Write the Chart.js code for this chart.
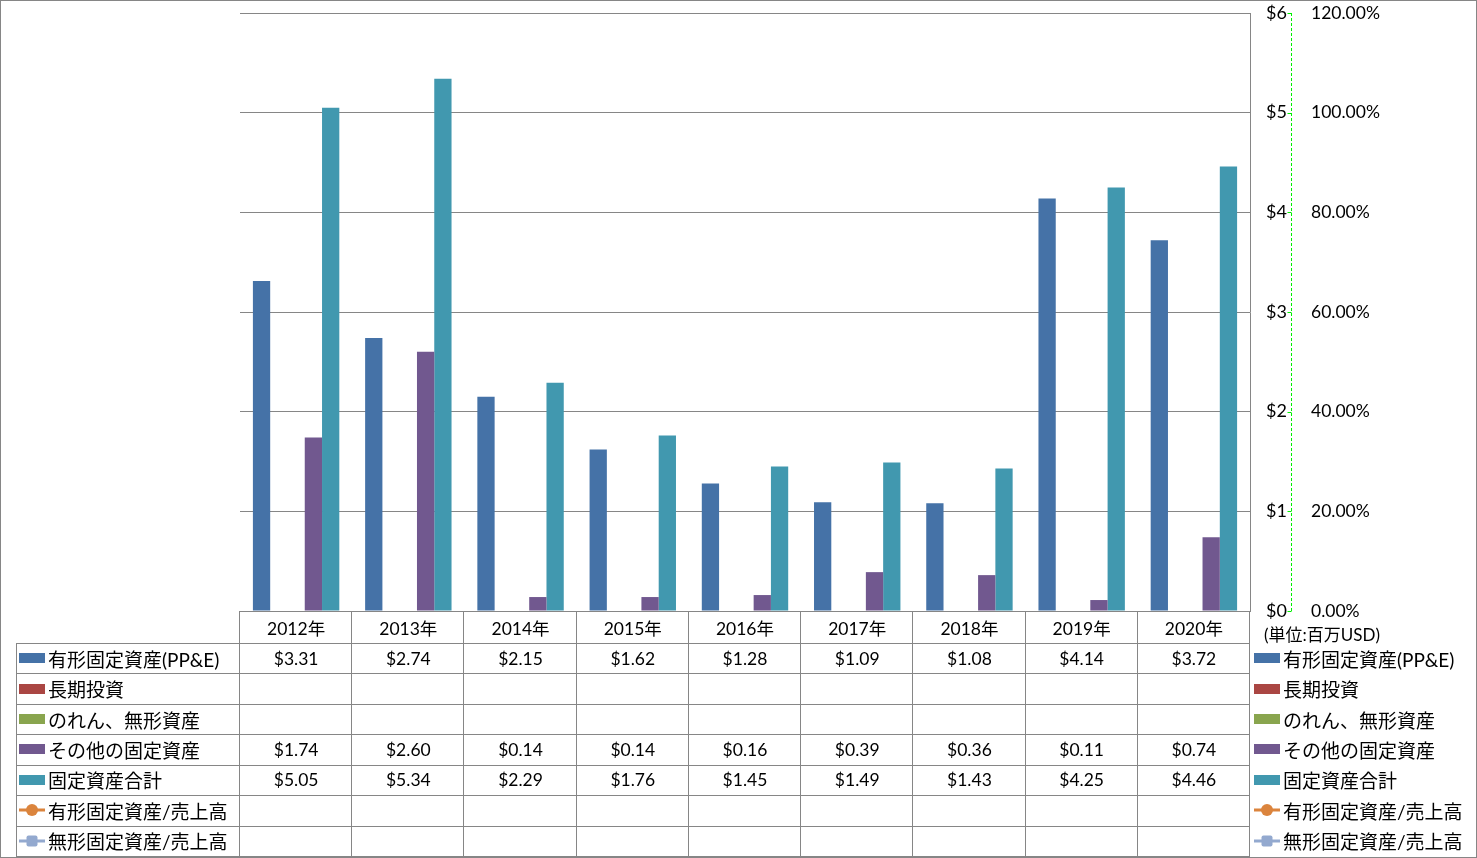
<!DOCTYPE html>
<html lang="ja">
<head>
<meta charset="utf-8">
<script src="https://cdn.jsdelivr.net/npm/chart.js@4.4.1/dist/chart.umd.min.js"></script>
<style>
  body { margin: 0; background: #fff; }
  #wrap { position: relative; width: 1477px; height: 858px; font-family: Lato, "Noto Sans CJK JP", sans-serif; color: #000; overflow: hidden; }
  #c { position: absolute; left: 0; top: 0; }
  #frame { position: absolute; left: 0; top: 0; width: 1475px; height: 856px; border: 1px solid #868686; pointer-events: none; }
  .ln { position: absolute; background: #868686; }
  .cell { position: absolute; display: flex; align-items: center; justify-content: center; font-size: 17.5px; white-space: nowrap; }
  .lab { position: absolute; display: flex; align-items: center; font-size: 19px; white-space: nowrap; }
  .lab svg { flex: none; margin-right: 3px; }
  #unit { position: absolute; left: 1264px; top: 621px; font-size: 17px; white-space: nowrap; }
</style>
</head>
<body>
<div id="wrap">
  <canvas id="c" width="1477" height="858"></canvas>
  <div id="table"></div>
  <div id="unit">(単位:百万USD)</div>
  <div id="frame"></div>
</div>
<script>
// chart data (millions USD)
const years = ['2012年', '2013年', '2014年', '2015年', '2016年', '2017年', '2018年', '2019年', '2020年'];
const ppe = [3.31, 2.74, 2.15, 1.62, 1.28, 1.09, 1.08, 4.14, 3.72];
const longTermInv = [null, null, null, null, null, null, null, null, null];
const goodwill = [null, null, null, null, null, null, null, null, null];
const otherFixed = [1.74, 2.60, 0.14, 0.14, 0.16, 0.39, 0.36, 0.11, 0.74];
const totalFixed = [5.05, 5.34, 2.29, 1.76, 1.45, 1.49, 1.43, 4.25, 4.46];
const ppeToSales = [null, null, null, null, null, null, null, null, null];
const intangibleToSales = [null, null, null, null, null, null, null, null, null];

const dollarTicks = [0, 1, 2, 3, 4, 5, 6];

const FONT = 'Lato, "Noto Sans CJK JP", sans-serif';

// green dashed axis line that sits between the $ and % labels
const greenAxis = {
  id: 'greenAxis',
  afterDraw(chart) {
    const ctx = chart.ctx;
    const y = chart.scales.y;
    const x = Math.round(y.right) - 0.5;
    ctx.save();
    ctx.strokeStyle = '#00f000';
    ctx.lineWidth = 1;
    ctx.setLineDash([3, 2]);
    ctx.beginPath();
    ctx.moveTo(x, chart.chartArea.top);
    ctx.lineTo(x, chart.chartArea.bottom);
    ctx.stroke();
    ctx.setLineDash([]);
    dollarTicks.forEach(v => {
      const py = Math.round(y.getPixelForValue(v)) + 0.5;
      ctx.beginPath();
      ctx.moveTo(x - 4, py);
      ctx.lineTo(x, py);
      ctx.stroke();
    });
    ctx.restore();
  }
};

// fixed axis widths, and no label overhang padding so the plot starts at the layout padding
const fitY = s => { s.width = 42; s.paddingTop = 0; s.paddingBottom = 0; };
const fitY1 = s => { s.width = 185; s.paddingTop = 0; s.paddingBottom = 0; };

const chart = new Chart(document.getElementById('c'), {
  type: 'bar',
  data: {
    labels: years,
    datasets: [
      { label: '有形固定資産(PP&E)', data: ppe, backgroundColor: '#4572A7' },
      { label: '長期投資', data: longTermInv, backgroundColor: '#AA4643' },
      { label: 'のれん、無形資産', data: goodwill, backgroundColor: '#89A54E' },
      { label: 'その他の固定資産', data: otherFixed, backgroundColor: '#71588F' },
      { label: '固定資産合計', data: totalFixed, backgroundColor: '#4198AF' },
      { type: 'line', label: '有形固定資産/売上高', data: ppeToSales, yAxisID: 'y1',
        borderColor: '#DB843D', backgroundColor: '#DB843D', pointStyle: 'circle' },
      { type: 'line', label: '無形固定資産/売上高', data: intangibleToSales, yAxisID: 'y1',
        borderColor: '#93A9CF', backgroundColor: '#93A9CF', pointStyle: 'rectRounded' }
    ]
  },
  options: {
    responsive: false,
    animation: false,
    layout: { autoPadding: false, padding: { left: 240, top: 13, right: 0, bottom: 247 } },
    plugins: { legend: { display: false }, tooltip: { enabled: false } },
    datasets: { bar: { categoryPercentage: 0.77, barPercentage: 1 } },
    scales: {
      x: { display: false },
      y: {
        position: 'right', min: 0, max: 6,
        ticks: { stepSize: 1, padding: 16, color: '#000', font: { family: FONT, size: 18 },
                 callback: v => '$' + v },
        grid: { color: '#868686', drawTicks: false },
        border: { display: true, color: '#868686' },
        afterFit: fitY
      },
      y1: {
        position: 'right', min: 0, max: 120,
        ticks: { stepSize: 20, padding: 19, color: '#000', font: { family: FONT, size: 17.5 },
                 callback: v => v.toFixed(2) + '%' },
        grid: { display: false, drawTicks: false },
        border: { display: false },
        afterFit: fitY1
      }
    }
  },
  plugins: [greenAxis]
});

// data table under the plot, laid out from the chart's own x scale
function keySvg(ds) {
  const c = ds.backgroundColor;
  if (ds.type === 'line') {
    const marker = ds.pointStyle === 'circle'
      ? `<circle cx="13" cy="8" r="6" fill="${c}"/>`
      : `<rect x="7.5" y="2.5" width="11" height="11" rx="2" fill="${c}"/>`;
    return `<svg width="26" height="16"><rect x="0" y="6.5" width="26" height="3" fill="${c}"/>${marker}</svg>`;
  }
  return `<svg width="26" height="16"><rect x="0" y="3" width="26" height="10" fill="${c}"/></svg>`;
}

function buildTable() {
  const box = document.getElementById('table');
  const ca = chart.chartArea;
  const xs = chart.scales.x;
  const colW = xs.getPixelForValue(1) - xs.getPixelForValue(0);
  const headTop = ca.bottom;
  const headBottom = 643;
  const tableBottom = 856;
  const sets = chart.data.datasets;
  const rowH = (tableBottom - headBottom) / sets.length;
  let html = '';

  const line = (l, t, w, h) => `<div class="ln" style="left:${l}px;top:${t}px;width:${w}px;height:${h}px"></div>`;

  // vertical column lines
  for (let k = 0; k <= years.length; k++) {
    const x = Math.round(ca.left + k * colW) - 1;
    html += line(x, headTop, 1, tableBottom - headTop);
  }
  html += line(16, headBottom, 1, tableBottom - headBottom);
  // horizontal row lines
  for (let r = 0; r <= sets.length; r++) {
    const y = Math.round(headBottom + r * rowH);
    html += line(16, y, Math.round(ca.right) - 16, 1);
  }

  // header cells
  years.forEach((yr, i) => {
    const cx = xs.getPixelForValue(i);
    html += `<div class="cell" style="left:${cx - colW / 2}px;top:${headTop}px;width:${colW}px;height:${headBottom - headTop}px">${yr}</div>`;
  });

  // rows: legend key + label on both sides, values in between
  sets.forEach((ds, r) => {
    const top = headBottom + r * rowH;
    html += `<div class="lab" style="left:19px;top:${top}px;height:${rowH}px">${keySvg(ds)}${ds.label}</div>`;
    html += `<div class="lab" style="left:1254px;top:${top}px;height:${rowH}px">${keySvg(ds)}${ds.label}</div>`;
    ds.data.forEach((v, i) => {
      if (v === null) return;
      const cx = xs.getPixelForValue(i);
      html += `<div class="cell" style="left:${cx - colW / 2}px;top:${top}px;width:${colW}px;height:${rowH}px">$${v.toFixed(2)}</div>`;
    });
  });

  box.innerHTML = html;
}

buildTable();
</script>
</body>
</html>
